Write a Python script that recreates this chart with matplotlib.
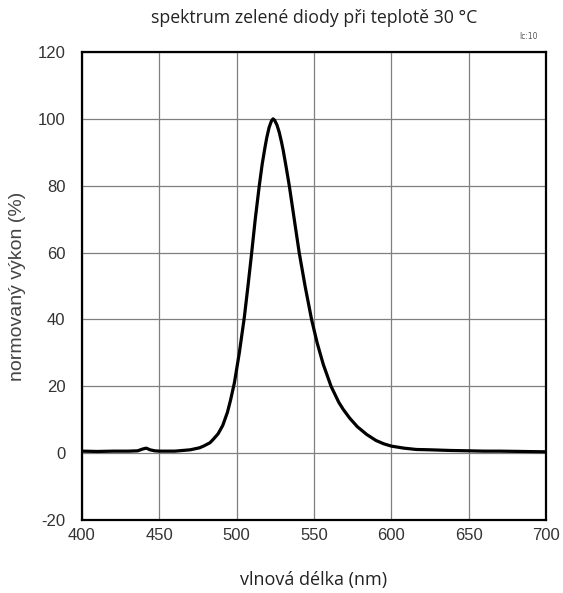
import matplotlib.pyplot as plt

plt.rcParams['axes.unicode_minus'] = False

# spectrum (nm, %)
wavelength = [400, 410, 420, 430, 436, 439, 441.5, 444, 447, 450, 460, 470, 476, 479,
              482.7, 485, 488, 491, 494, 496, 498.5, 501.7, 504.9, 507.3, 509.7, 512,
              514.6, 516.5, 518.3, 519.5, 521, 522.5, 523.5, 524.5, 526, 527.5, 529,
              530.1, 532, 534, 537.2, 540.4, 544.2, 548.4, 552, 556, 561, 566, 569,
              573, 578, 584, 590, 595, 600, 608, 616, 625, 638, 650, 660, 670, 685, 700]
power = [0.6, 0.5, 0.6, 0.6, 0.7, 1.2, 1.5, 1.0, 0.7, 0.6, 0.6, 1.0, 1.6, 2.2,
         3.1, 4.2, 5.8, 8.3, 12.2, 15.8, 21, 30, 40.5, 50, 60, 70,
         80, 86.5, 91.5, 94.5, 97.5, 99.4, 100, 99.6, 98.2, 96, 93,
         90.5, 85.5, 80, 70, 60, 50, 40, 33, 26.5, 20, 15.2, 13,
         10.5, 7.9, 5.6, 3.8, 2.8, 2.1, 1.5, 1.1, 1.0, 0.8, 0.7, 0.6, 0.6, 0.5, 0.4]

x_ticks = [400, 450, 500, 550, 600, 650, 700]
y_ticks = [-20, 0, 20, 40, 60, 80, 100, 120]

tick_font = ['Liberation Sans Narrow', 'Liberation Sans']
title_font = ['Open Sans', 'DejaVu Sans']

fig = plt.figure(figsize=(5.63, 5.93), dpi=100)
ax = fig.add_axes([0.1456, 0.1231, 0.8244, 0.7892])

ax.plot(wavelength, power, color='black', lw=2.3, solid_joinstyle='round')

ax.set_xlim(400, 700)
ax.set_ylim(-20, 120)
ax.set_xticks(x_ticks)
ax.set_yticks(y_ticks)
ax.grid(True, color='#7f7f7f', lw=0.9)
ax.tick_params(length=0, labelsize=12)
ax.tick_params(axis='x', pad=6)
ax.tick_params(axis='y', pad=12)
for lbl in ax.get_xticklabels() + ax.get_yticklabels():
    lbl.set_family(tick_font)
    lbl.set_color('#333333')
for s in ax.spines.values():
    s.set_linewidth(1.6)

ax.set_xlabel('vlnová délka (nm)', family=title_font, fontsize=13, color='#222222', labelpad=20)
ax.set_ylabel('normovaný výkon (%)', family=tick_font, fontsize=14, color='#444444', labelpad=8)
ax.set_title('spektrum zelené diody při teplotě 30 °C', family=title_font, fontsize=12.8,
             color='#222222', pad=21)
fig.text(0.956, 0.935, 'Ic:10', fontsize=5.5, color='#555555', ha='right')

fig.savefig('out.png', dpi=100)
